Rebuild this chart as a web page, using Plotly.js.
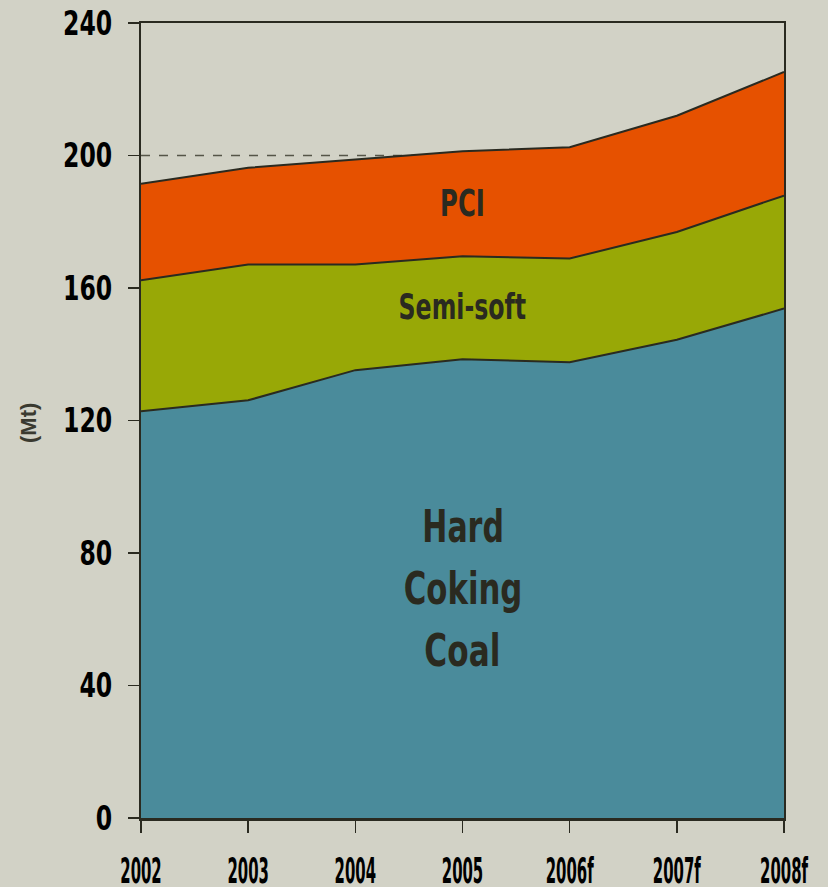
<!DOCTYPE html>
<html>
<head>
<meta charset="utf-8">
<script src="https://cdn.plot.ly/plotly-3.0.1.min.js"></script>
<style>
  html, body { margin: 0; padding: 0; background: #d2d2c6; }
  #chart { width: 828px; height: 887px; }
</style>
</head>
<body>
<div id="chart"></div>
<script>
// Data (Mt)
const years = ['2002', '2003', '2004', '2005', '2006f', '2007f', '2008f'];
const hardCoking = [122.8, 126.1, 135.2, 138.5, 137.6, 144.4, 153.8];
const semiSoft   = [39.5, 41.0, 31.9, 31.1, 31.3, 32.5, 34.1];
const pci        = [29.2, 29.2, 31.7, 31.7, 33.6, 35.1, 37.3];
const yTicks = [0, 40, 80, 120, 160, 200, 240];
const refLevel = 200;

const FONT = '"Liberation Sans Narrow", "DejaVu Sans Condensed", "Arial Narrow", sans-serif';
const DARK = '#2a2a20';

function area(name, y, color) {
  return {
    type: 'scatter', mode: 'lines', name: name,
    x: years, y: y, stackgroup: 'one',
    fillcolor: color,
    line: { color: DARK, width: 2 },
    hoverinfo: 'x+y+name'
  };
}

const data = [
  area('Hard Coking Coal', hardCoking, '#4a8b9b'),
  area('Semi-soft', semiSoft, '#98a806'),
  area('PCI', pci, '#e65100')
];

const layout = {
  width: 828, height: 887,
  margin: { l: 141, r: 44, t: 23, b: 68.5 },
  paper_bgcolor: '#d2d2c6',
  plot_bgcolor: '#d2d2c6',
  showlegend: false,
  font: { family: FONT, color: '#000' },
  xaxis: {
    type: 'category',
    range: [0, years.length - 1],
    showgrid: false, zeroline: false,
    showline: true, linecolor: DARK, linewidth: 2.5, mirror: true,
    ticks: 'outside', ticklen: 12, tickwidth: 1.5, tickcolor: DARK,
    ticklabelstandoff: 7,
    tickangle: 0,
    tickfont: { family: FONT, size: 36, color: '#000', weight: 'bold' },
    automargin: false
  },
  yaxis: {
    range: [0, 240],
    tickvals: yTicks,
    showgrid: false, zeroline: false,
    showline: true, linecolor: DARK, linewidth: 2, mirror: true,
    ticks: 'outside', ticklen: 11, tickwidth: 1.5, tickcolor: DARK,
    ticklabelstandoff: 9,
    tickfont: { family: FONT, size: 34, color: '#000', weight: 'bold' },
    automargin: false
  },
  shapes: [{
    type: 'line', layer: 'below',
    xref: 'paper', x0: 0, x1: 1,
    yref: 'y', y0: refLevel, y1: refLevel,
    line: { color: '#555548', width: 1.5, dash: 'dash' }
  }],
  annotations: [
    { xref: 'x', yref: 'y', x: 3, y: 185.8, text: 'PCI', showarrow: false,
      font: { family: FONT, size: 38, color: DARK, weight: 'bold' } },
    { xref: 'x', yref: 'y', x: 3, y: 154.5, text: 'Semi-soft', showarrow: false,
      font: { family: FONT, size: 36, color: DARK, weight: 'bold' } },
    { xref: 'x', yref: 'y', x: 3, y: 87.9, text: 'Hard', showarrow: false,
      font: { family: FONT, size: 45, color: DARK, weight: 'bold' } },
    { xref: 'x', yref: 'y', x: 3, y: 69.2, text: 'Coking', showarrow: false,
      font: { family: FONT, size: 45, color: DARK, weight: 'bold' } },
    { xref: 'x', yref: 'y', x: 3, y: 50.5, text: 'Coal', showarrow: false,
      font: { family: FONT, size: 45, color: DARK, weight: 'bold' } },
    { xref: 'paper', yref: 'paper', x: -0.174, y: 0.497, xanchor: 'center', yanchor: 'middle',
      text: '(Mt)', showarrow: false, textangle: -90,
      font: { family: '"Liberation Sans", Arial, sans-serif', size: 22, color: '#3a3a30', weight: 'bold' } }
  ]
};

// Horizontally condense text to mimic the narrow typeface of the original
function squeeze(el, ratio) {
  const w = el.getComputedTextLength();
  if (w > 0) {
    el.setAttribute('textLength', (w * ratio).toFixed(2));
    el.setAttribute('lengthAdjust', 'spacingAndGlyphs');
  }
}

Plotly.newPlot('chart', data, layout, { displayModeBar: false, staticPlot: true }).then(function (gd) {
  gd.querySelectorAll('.xtick text').forEach(t => squeeze(t, 0.46));
  gd.querySelectorAll('.ytick text').forEach(t => squeeze(t, 0.77));
  const ratios = { 'PCI': 0.71, 'Semi-soft': 0.73, 'Hard': 0.74, 'Coking': 0.76, 'Coal': 0.77 };
  gd.querySelectorAll('.annotation-text').forEach(t => {
    const r = ratios[t.textContent];
    if (r) squeeze(t, r);
  });
});
</script>
</body>
</html>
